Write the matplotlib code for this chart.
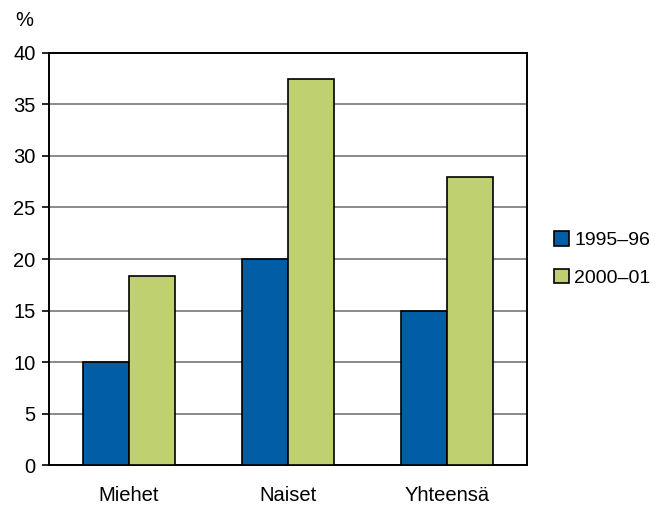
import matplotlib.pyplot as plt
import numpy as np

plt.rcParams['font.family'] = ['Liberation Sans', 'DejaVu Sans']

categories = ["Miehet", "Naiset", "Yhteensä"]
v1995 = [10.0, 20.0, 15.0]
v2000 = [18.4, 37.5, 28.0]
labels = ["1995\u201396", "2000\u201301"]

fig = plt.figure(figsize=(6.57, 5.07), dpi=100)
ax = fig.add_axes([0.075, 0.082, 0.727, 0.814])

x = np.arange(len(categories))
w = 0.29
ax.bar(x - w/2, v1995, w, color='#005DA6', edgecolor='black', linewidth=1.2, label=labels[0], zorder=3)
ax.bar(x + w/2, v2000, w, color='#BFD070', edgecolor='black', linewidth=1.2, label=labels[1], zorder=3)

ax.set_xlim(-0.5, 2.5)
ax.set_ylim(0, 40)
ax.set_yticks(range(0, 41, 5))
ax.set_xticks(x)
ax.set_xticklabels(categories)
ax.yaxis.grid(True, color='#777777', linewidth=1.2, zorder=0)
ax.tick_params(axis='x', length=0, pad=15, labelsize=14.5)
ax.tick_params(axis='y', length=5, width=1.2, labelsize=14.5, pad=5)
for s in ax.spines.values():
    s.set_linewidth(1.4)
    s.set_color('black')

fig.text(24/657, 1 - 20/507, "%", fontsize=14.5, ha='center', va='center')

ax.legend(loc='center left', bbox_to_anchor=(1.02, 0.5), frameon=False, fontsize=14,
          handlelength=0.75, handleheight=0.75, handletextpad=0.3, labelspacing=1.0)

fig.savefig('out.png', dpi=100)
